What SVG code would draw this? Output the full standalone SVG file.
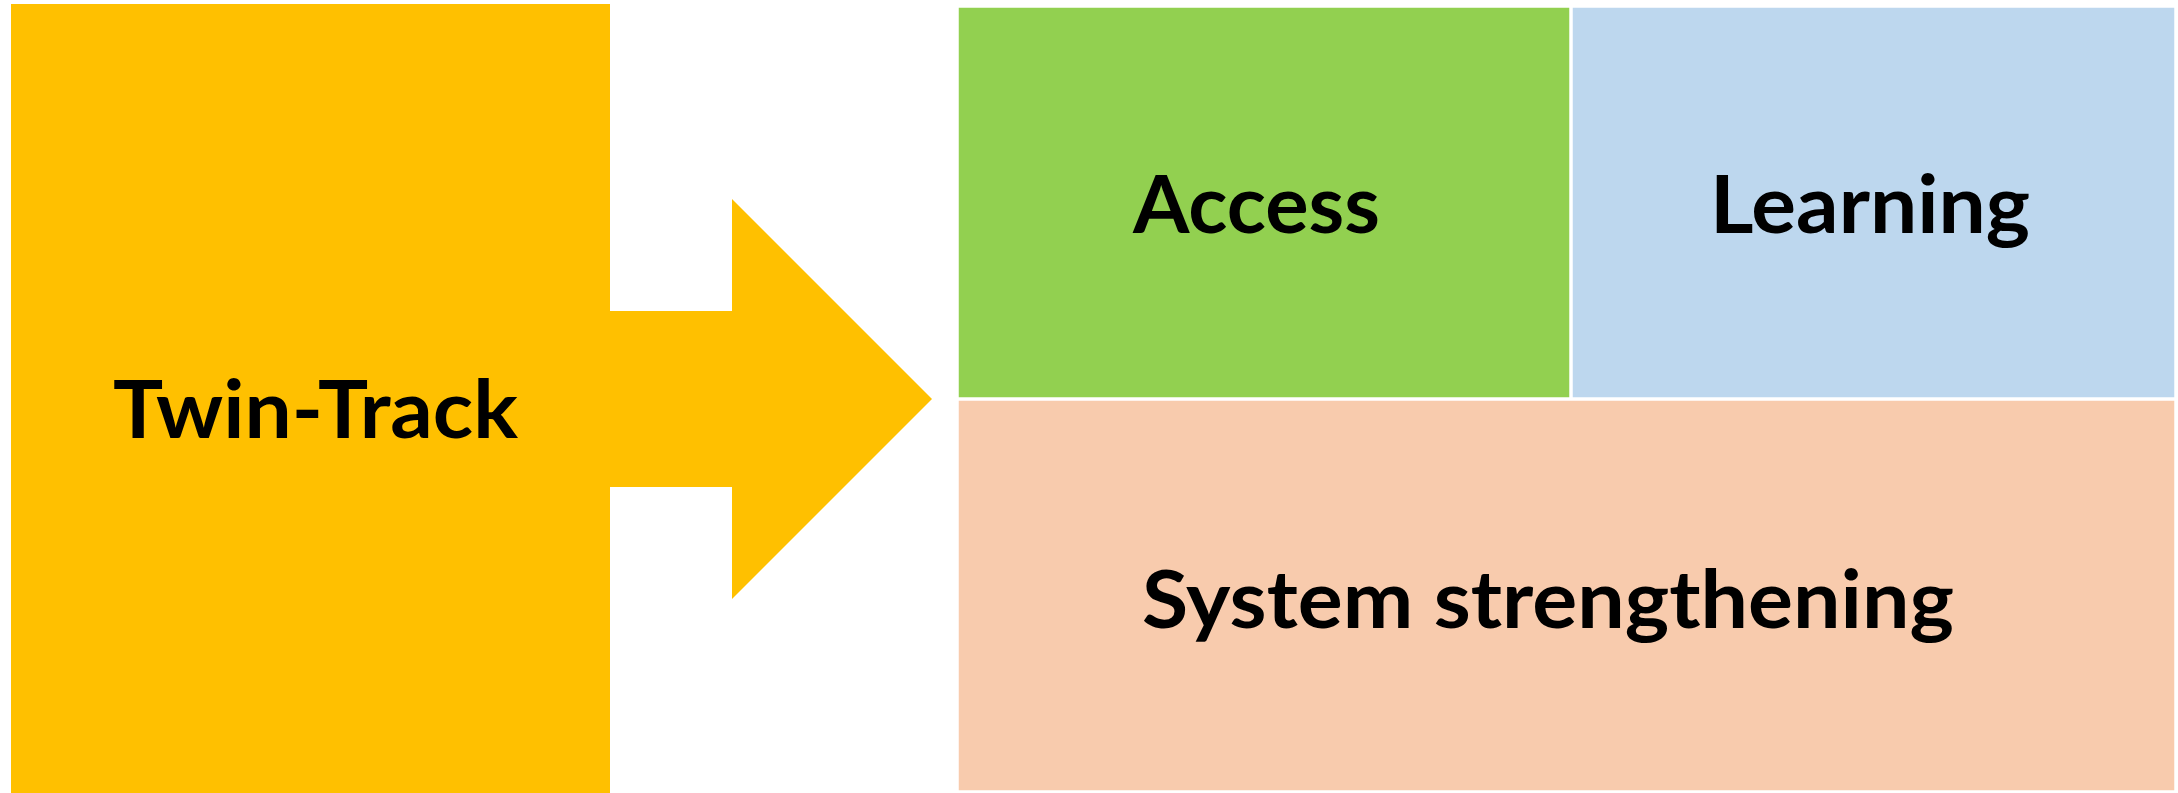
<svg xmlns="http://www.w3.org/2000/svg" width="2178" height="793" viewBox="0 0 2178 793">
<style>
.lbl{font-family:"Lato","Open Sans","Liberation Sans",sans-serif;font-weight:700;font-size:80px;fill:#000}
.box{stroke:#ffffff;stroke-width:1.5}
</style>
<rect width="2178" height="793" fill="#ffffff"/>
<g id="twin-track">
<polygon points="11,4 610,4 610,311 732,311 732,199 932,399 732,599 732,487 610,487 610,793 11,793" fill="#FFC000"/>
<text class="lbl" x="113" y="438" textLength="405" lengthAdjust="spacingAndGlyphs">Twin-Track</text>
</g>
<g id="access">
<rect class="box" x="958" y="7" width="612" height="391" fill="#92D050"/>
<text class="lbl" x="1133" y="233" textLength="247" lengthAdjust="spacingAndGlyphs">Access</text>
</g>
<g id="learning">
<rect class="box" x="1572" y="7" width="603" height="391" fill="#BDD7EE"/>
<text class="lbl" x="1710" y="233" textLength="320" lengthAdjust="spacingAndGlyphs">Learning</text>
</g>
<g id="system">
<rect class="box" x="958" y="400" width="1217" height="391" fill="#F8CBAD"/>
<text class="lbl" x="1142" y="628" textLength="812" lengthAdjust="spacingAndGlyphs">System strengthening</text>
</g>
<g id="connectors"></g>
</svg>
